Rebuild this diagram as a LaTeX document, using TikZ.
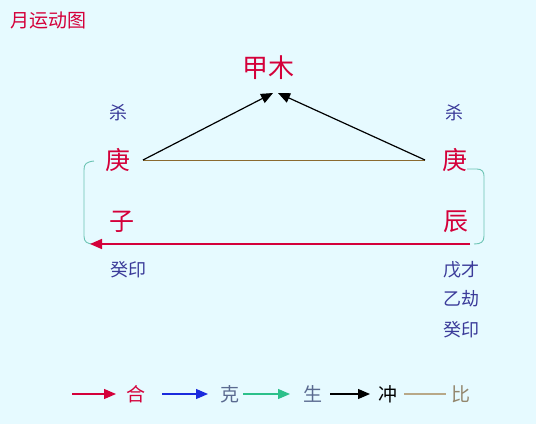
\documentclass[tikz,border=0pt]{standalone}
\usepackage{fontspec}
\setmainfont{Noto Sans CJK SC}
\usetikzlibrary{arrows.meta}
\definecolor{bg}{HTML}{E6FAFF}
\definecolor{hred}{HTML}{D4003A}
\definecolor{hblue}{HTML}{3A3A99}
\definecolor{hgray}{HTML}{5A6A90}
\definecolor{hgreen}{HTML}{2CC08A}
\definecolor{brk}{HTML}{6CC4B4}
\definecolor{hbrown}{HTML}{8A6A30}
\definecolor{htan}{HTML}{B8A888}
\definecolor{larrblue}{HTML}{1A2ADD}
\tikzset{
  big/.style={text=hred,font=\fontsize{25}{27}\selectfont,inner sep=0pt},
  small/.style={text=hblue,font=\fontsize{18}{20}\selectfont,inner sep=0pt},
  leg/.style={font=\fontsize{19}{21}\selectfont,inner sep=0pt},
  tip/.style={-{Triangle[length=12pt,width=10pt]}},
}
\begin{document}
\begin{tikzpicture}[x=1pt,y=-1pt]
\fill[bg] (0,0) rectangle (536,424);
\useasboundingbox (0,0) rectangle (536,424);
\node[text=hred,font=\fontsize{19}{21}\selectfont,inner sep=0pt,anchor=west] (title) at (10,20) {月运动图};
\node[big,font=\fontsize{26}{28}\selectfont] (jia) at (268,68) {甲木};
\node[small] (shaL) at (118,113) {杀};
\node[small] (shaR) at (454,113) {杀};
\node[big] (gengL) at (118,160) {庚};
\node[big] (gengR) at (455,160) {庚};
\node[big] (zi) at (122,222) {子};
\node[big] (chen) at (456,222) {辰};
\node[small] (guiL) at (128,270) {癸印};
\node[small] (wu) at (461,270) {戊才};
\node[small] (yi) at (461,299) {乙劫};
\node[small] (guiR) at (461,330) {癸印};
\coordinate (tL) at (273,93);
\coordinate (tR) at (278,93);
\coordinate (gLe) at (143,160);
\coordinate (gRe) at (425,160);
\draw[hbrown,line width=1pt] (gLe) -- (gRe);
\draw[black,line width=1.2pt,tip] (gLe) -- (tL);
\draw[black,line width=1.2pt,tip] (gRe) -- (tR);
% brackets
\draw[brk,line width=0.9pt] (94,161) .. controls (86,162) and (84,164) .. (84,170) -- (84,236) .. controls (84,242) and (87,244) .. (94,244);
\draw[brk,line width=0.9pt] (467,169) -- (477,169) .. controls (482,169) and (484,172) .. (484,176) -- (484,236) .. controls (484,242) and (481,244) .. (474,244);
\coordinate (rS) at (470,244);
\coordinate (rE) at (90,244);
\draw[hred,line width=1.6pt,tip] (rS) -- (rE);
% legend
\coordinate (a1) at (72,394); \coordinate (a2) at (116,394);
\draw[hred,line width=1.2pt,tip] (a1) -- (a2);
\node[leg,text=hred] (he) at (136,394) {合};
\coordinate (b1) at (162,394); \coordinate (b2) at (208,394);
\draw[larrblue,line width=1.2pt,tip] (b1) -- (b2);
\node[leg,text=hgray] (ke) at (230,394) {克};
\coordinate (c1) at (243,394); \coordinate (c2) at (290,394);
\draw[hgreen,line width=1.2pt,tip] (c1) -- (c2);
\node[leg,text=hgray] (sheng) at (313,394) {生};
\coordinate (d1) at (330,394); \coordinate (d2) at (370,394);
\draw[black,line width=1.2pt,tip] (d1) -- (d2);
\node[leg,text=black] (chong) at (388,394) {冲};
\coordinate (e1) at (404,394); \coordinate (e2) at (446,394);
\draw[htan,line width=1.2pt] (e1) -- (e2);
\node[leg,text=htan!80!black] (bi) at (461,394) {比};
\end{tikzpicture}
\end{document}
